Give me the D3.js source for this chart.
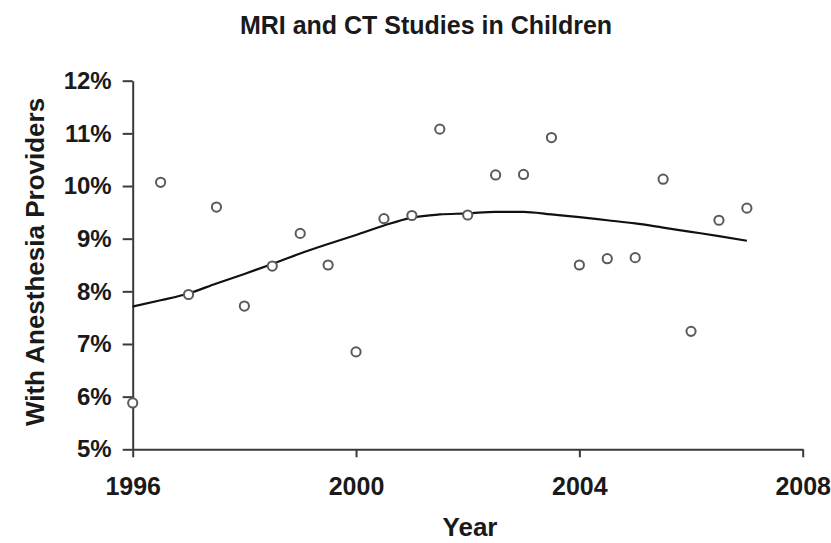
<!DOCTYPE html>
<html>
<head>
<meta charset="utf-8">
<script src="https://cdn.jsdelivr.net/npm/d3@7"></script>
<style>
  html, body { margin: 0; padding: 0; background: #fff; }
  svg { display: block; }
  text { font-family: "Liberation Sans", Arial, sans-serif; font-weight: bold; fill: #1a1a1a; }
</style>
</head>
<body>
<svg id="chart" width="831" height="543"></svg>
<script>
// Observed data (year, percent)
const years = [1996, 1996.5, 1997, 1997.5, 1998, 1998.5, 1999, 1999.5, 2000, 2000.5, 2001, 2001.5,
               2002, 2002.5, 2003, 2003.5, 2004, 2004.5, 2005, 2005.5, 2006, 2006.5, 2007];
const values = [5.88, 10.07, 7.94, 9.60, 7.72, 8.48, 9.10, 8.50, 6.85, 9.38, 9.44, 11.08,
                9.45, 10.21, 10.22, 10.92, 8.50, 8.62, 8.64, 10.13, 7.24, 9.35, 9.58];
// Smoothed trend curve
const trendYears  = [1996, 1996.5, 1997, 1997.5, 1998, 1998.5, 1999, 1999.5, 2000, 2000.5, 2001, 2001.5,
                     2002, 2002.5, 2003, 2003.5, 2004, 2004.5, 2005, 2005.5, 2006, 2006.5, 2007];
const trendValues = [7.71, 7.83, 7.96, 8.15, 8.33, 8.52, 8.72, 8.90, 9.07, 9.25, 9.40, 9.46,
                     9.48, 9.51, 9.51, 9.46, 9.41, 9.35, 9.29, 9.21, 9.13, 9.05, 8.96];
const xTicks = [1996, 2000, 2004, 2008];
const yTicks = [5, 6, 7, 8, 9, 10, 11, 12];
const title = "MRI and CT Studies in Children";
const xTitle = "Year";
const yTitle = "With Anesthesia Providers";

const svg = d3.select("#chart");
const x = d3.scaleLinear().domain([1996, 2008]).range([132.7, 802.7]);
const y = d3.scaleLinear().domain([5, 12]).range([449.3, 80.7]);

// Axes
const xAxis = svg.append("g").attr("transform", `translate(0,${y(5)})`)
  .call(d3.axisBottom(x).tickValues(xTicks).tickFormat(d3.format("d")).tickSizeInner(8).tickSizeOuter(0).tickPadding(20));
const yAxis = svg.append("g").attr("transform", `translate(${x(1996)},0)`)
  .call(d3.axisLeft(y).tickValues(yTicks).tickFormat(d => d + "%").tickSizeInner(10).tickSizeOuter(0).tickPadding(11));

[xAxis, yAxis].forEach(g => {
  g.select(".domain").attr("stroke", "#3a3a3a").attr("stroke-width", 2);
  g.selectAll(".tick line").attr("stroke", "#3a3a3a").attr("stroke-width", 2);
  g.selectAll(".tick text").attr("fill", "#1a1a1a")
    .style("font-family", '"Liberation Sans", Arial, sans-serif').style("font-weight", "bold");
});
xAxis.selectAll(".tick text").style("font-size", "25px");
yAxis.selectAll(".tick text").style("font-size", "24px");

// Trend line
const line = d3.line().x((d, i) => x(trendYears[i])).y(d => y(d)).curve(d3.curveMonotoneX);
svg.append("path").datum(trendValues)
  .attr("d", line).attr("fill", "none").attr("stroke", "#111").attr("stroke-width", 2.2);

// Points
svg.append("g").selectAll("circle").data(values).join("circle")
  .attr("cx", (d, i) => x(years[i])).attr("cy", d => y(d)).attr("r", 4.6)
  .attr("fill", "#fff").attr("stroke", "#5a5a5a").attr("stroke-width", 2);

// Titles
svg.append("text").attr("x", 426).attr("y", 34).attr("text-anchor", "middle")
  .style("font-size", "25px").text(title);
svg.append("text").attr("x", 470).attr("y", 536).attr("text-anchor", "middle")
  .style("font-size", "26px").text(xTitle);
svg.append("text").attr("transform", "translate(44,262) rotate(-90)").attr("text-anchor", "middle")
  .style("font-size", "26px").text(yTitle);
</script>
</body>
</html>
